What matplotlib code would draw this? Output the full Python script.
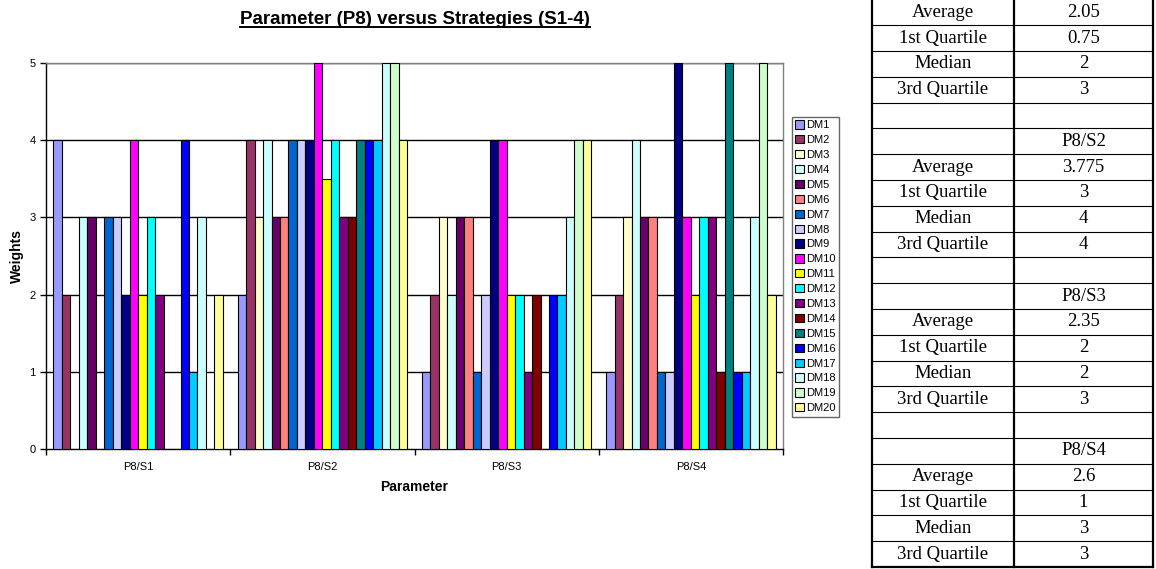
import matplotlib
matplotlib.use("Agg")
import matplotlib.pyplot as plt
from matplotlib.lines import Line2D
import numpy as np

plt.rcParams['font.family'] = ['Liberation Sans', 'DejaVu Sans']

categories = ["P8/S1", "P8/S2", "P8/S3", "P8/S4"]
series_names = ["DM%d" % i for i in range(1, 21)]

# weights per decision maker, one value per strategy (S1..S4)
dm1 = [4, 2, 1, 1]
dm2 = [2, 4, 2, 2]
dm3 = [0, 3, 3, 3]
dm4 = [3, 4, 2, 4]
dm5 = [3, 3, 3, 3]
dm6 = [0, 3, 3, 3]
dm7 = [3, 4, 1, 1]
dm8 = [3, 4, 2, 1]
dm9 = [2, 4, 4, 5]
dm10 = [4, 5, 4, 3]
dm11 = [2, 3.5, 2, 2]
dm12 = [3, 4, 2, 3]
dm13 = [2, 3, 1, 3]
dm14 = [0, 3, 2, 1]
dm15 = [0, 4, 0, 5]
dm16 = [4, 4, 2, 1]
dm17 = [1, 4, 2, 1]
dm18 = [3, 5, 3, 3]
dm19 = [0, 5, 4, 5]
dm20 = [2, 4, 4, 2]
values = [dm1, dm2, dm3, dm4, dm5, dm6, dm7, dm8, dm9, dm10,
          dm11, dm12, dm13, dm14, dm15, dm16, dm17, dm18, dm19, dm20]

colors = ["#9999FF", "#993366", "#FFFFCC", "#CCFFFF", "#660066",
          "#FF8080", "#0066CC", "#CCCCFF", "#000080", "#FF00FF",
          "#FFFF00", "#00FFFF", "#800080", "#800000", "#008080",
          "#0000FF", "#00CCFF", "#CCFFFF", "#CCFFCC", "#FFFF99"]

# summary table on the right (top of it is cut off in the original)
table_labels = ["Average", "1st Quartile", "Median", "3rd Quartile", "",
                "", "Average", "1st Quartile", "Median", "3rd Quartile", "",
                "", "Average", "1st Quartile", "Median", "3rd Quartile", "",
                "", "Average", "1st Quartile", "Median", "3rd Quartile"]
table_values = ["2.05", "0.75", "2", "3", "",
                "P8/S2", "3.775", "3", "4", "4", "",
                "P8/S3", "2.35", "2", "2", "3", "",
                "P8/S4", "2.6", "1", "3", "3"]

W, H = 1156, 569
fig = plt.figure(figsize=(W / 100, H / 100), dpi=100)
ax = fig.add_axes([46 / W, 1 - 449 / H, (783 - 46) / W, (449 - 63) / H])

n = len(values)
bw = 0.92 / n
x = np.arange(len(categories))
for i in range(n):
    ax.bar(x - 0.46 + bw * (i + 0.5), values[i], bw, color=colors[i],
           edgecolor="black", linewidth=0.8, label=series_names[i], zorder=3)

ax.set_xlim(-0.5, len(categories) - 0.5)
ax.set_ylim(0, 5)
ax.set_yticks(range(6))
for yv in range(1, 6):
    ax.axhline(yv, color="black", linewidth=1, zorder=1)

ax.set_xticks(x)
ax.set_xticklabels(categories, fontsize=8)
ax.set_xticks(np.arange(len(categories) + 1) - 0.5, minor=True)
ax.tick_params(axis="x", which="major", length=0, pad=9)
ax.tick_params(axis="x", which="minor", length=4, width=1, direction="out")
ax.tick_params(axis="y", labelsize=8, length=4, width=1, direction="out")

for s in ["left", "bottom"]:
    ax.spines[s].set_color("black")
    ax.spines[s].set_linewidth(1)
for s in ["top", "right"]:
    ax.spines[s].set_color("#808080")
    ax.spines[s].set_linewidth(1)

ax.set_ylabel("Weights", fontsize=10, fontweight="bold", labelpad=4)
ax.set_xlabel("Parameter", fontsize=10, fontweight="bold", labelpad=6)

leg = fig.legend(loc="upper left", bbox_to_anchor=(792 / W, 1 - 117 / H),
                 fontsize=8, frameon=True, fancybox=False,
                 handlelength=0.75, handleheight=0.75, handletextpad=0.2,
                 labelspacing=0.44, borderpad=0.3, borderaxespad=0)
leg.get_frame().set_edgecolor("#404040")
leg.get_frame().set_linewidth(1)

title = fig.text(415 / W, 1 - 20 / H, "Parameter (P8) versus Strategies (S1-4)",
                 fontsize=13.5, fontweight="bold", ha="center", va="center")
fig.canvas.draw()
bb = title.get_window_extent().transformed(fig.transFigure.inverted())
fig.add_artist(Line2D([bb.x0, bb.x1], [bb.y0 + 0.002, bb.y0 + 0.002],
                      transform=fig.transFigure, color="black", linewidth=1.4))

# table
tx0, tx1, tx2 = 872, 1014, 1153
rows = len(table_labels)
rh = 25.8
ttop = 567 - rows * rh
tax = fig.add_axes([0, 0, 1, 1])
tax.set_xlim(0, W)
tax.set_ylim(H, 0)
tax.axis("off")
for r in range(rows):
    yc = ttop + (r + 0.5) * rh
    tax.text((tx0 + tx1) / 2, yc, table_labels[r], ha="center", va="center",
             fontsize=13.5, family="Liberation Serif")
    tax.text((tx1 + tx2) / 2, yc, table_values[r], ha="center", va="center",
             fontsize=13.5, family="Liberation Serif")
    yl = ttop + (r + 1) * rh
    tax.plot([tx0, tx2], [yl, yl], color="black",
             linewidth=1.6 if r == rows - 1 else 0.8)
for xv in [tx0, tx1, tx2]:
    tax.plot([xv, xv], [0, 567], color="black", linewidth=1.6)

fig.savefig("out.png", dpi=100)
